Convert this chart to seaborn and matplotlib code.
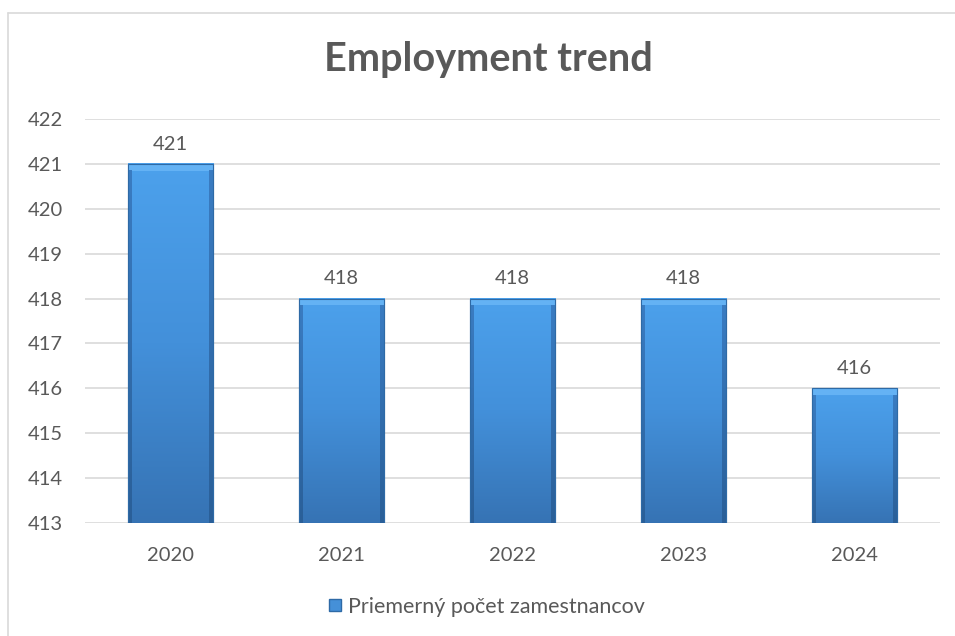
import numpy as np
import pandas as pd
import matplotlib
matplotlib.use("Agg")
import matplotlib.pyplot as plt
import seaborn as sns
from matplotlib.colors import LinearSegmentedColormap
from matplotlib.lines import Line2D
from matplotlib.patches import Rectangle

# data
years = ["2020", "2021", "2022", "2023", "2024"]
employees = [421, 418, 418, 418, 416]
series_name = "Priemerný počet zamestnancov"
chart_title = "Employment trend"

df = pd.DataFrame({"Year": years, "Employees": employees})

sns.set_theme(style="white")
plt.rcParams['font.family'] = ['Lato', 'DejaVu Sans']
text_col = "#595959"
grid_col = "#D9D9D9"
fs = 14.5

fig = plt.figure(figsize=(9.55, 6.36), dpi=100)
ax = fig.add_axes([85 / 955, 1 - 523 / 636, 855 / 955, 404 / 636])

sns.barplot(ax=ax, data=df, x="Year", y="Employees", color="#4590D8",
            width=0.5, edgecolor="#2E6AA6", linewidth=0.8, zorder=3)

ymin, ymax = 413, 422
ax.set_ylim(ymin, ymax)
ax.set_yticks(range(ymin, ymax + 1))
ax.set_xlabel("")
ax.set_ylabel("")
for s in ax.spines.values():
    s.set_visible(False)
ax.grid(axis="y", color=grid_col, linewidth=1.2, zorder=0)
ax.set_axisbelow(True)
ax.tick_params(axis="y", length=0, pad=16, labelsize=fs, labelcolor=text_col)
ax.tick_params(axis="x", length=0, pad=17, labelsize=fs, labelcolor=text_col)

# gradient fill inside each bar (lighter on top, darker at the bottom)
cmap = LinearSegmentedColormap.from_list("bar", ["#3673B4", "#4390DA", "#4CA1EC"])
grad = np.linspace(0, 1, 256).reshape(-1, 1)
side = LinearSegmentedColormap.from_list("side", ["#2A5F98", "#3A7CC2"])
for p in ax.patches[:len(years)]:
    x0, w = p.get_x(), p.get_width()
    top = p.get_y() + p.get_height()
    ax.imshow(grad, cmap=cmap, origin="lower", aspect="auto",
              extent=[x0, x0 + w, ymin, top], zorder=3.5)
    # bevel: light top rim, darker sides
    ax.add_patch(Rectangle((x0, top - 0.15), w, 0.15, color="#64B2F4",
                           lw=0, zorder=3.6))
    ax.imshow(grad, cmap=side, origin="lower", aspect="auto",
              extent=[x0, x0 + w * 0.045, ymin, top - 0.15], zorder=3.6)
    ax.imshow(grad, cmap=side, origin="lower", aspect="auto",
              extent=[x0 + w * 0.955, x0 + w, ymin, top - 0.15], zorder=3.6)
    ax.add_patch(Rectangle((x0, ymin), w, top - ymin, fill=False,
                           edgecolor="#2E6AA6", lw=0.8, zorder=3.7))
    ax.annotate(f"{top:.0f}", (x0 + w / 2, top), xytext=(0, 8),
                textcoords="offset points", ha="center", va="bottom",
                fontsize=fs, color=text_col, zorder=5)
ax.set_xlim(-0.5, len(years) - 0.5)
ax.set_ylim(ymin, ymax)

fig.suptitle(chart_title, x=488 / 955, y=1 - 60 / 636, va="center",
             fontsize=28.5, fontweight="bold", color=text_col)

handle = Line2D([], [], marker="s", linestyle="none", markersize=9,
                markerfacecolor="#4590D8", markeredgecolor="#2E6AA6")
fig.legend([handle], [series_name], loc="center",
           bbox_to_anchor=(486 / 955, 1 - 607 / 636), frameon=False,
           fontsize=15.5, labelcolor=text_col, handletextpad=0.2,
           handlelength=0.8)

# chart area border (top and left edges visible)
fig.add_artist(Line2D([8 / 955, 1], [1 - 13 / 636] * 2, color=grid_col,
                      lw=1.2, transform=fig.transFigure))
fig.add_artist(Line2D([8 / 955] * 2, [0, 1 - 13 / 636], color=grid_col,
                      lw=1.2, transform=fig.transFigure))

plt.savefig("out.png", dpi=100)
